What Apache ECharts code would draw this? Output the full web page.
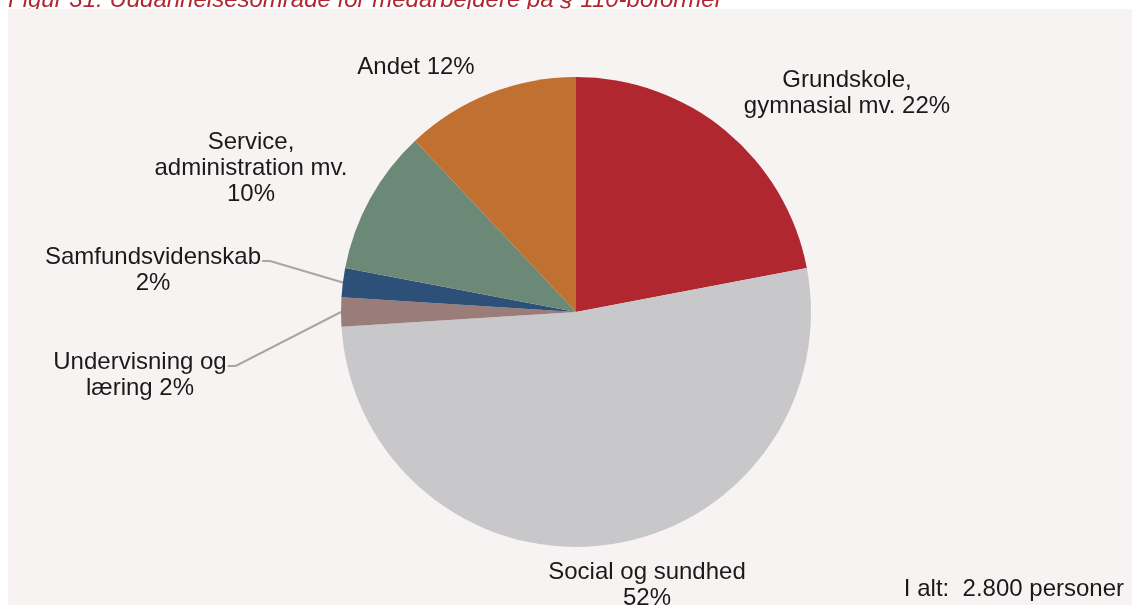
<!DOCTYPE html>
<html>
<head>
<meta charset="utf-8">
<script src="https://cdn.jsdelivr.net/npm/echarts@6/dist/echarts.min.js"></script>
<style>
html,body{margin:0;padding:0;background:#ffffff;}
#chart{width:1132px;height:605px;}
</style>
</head>
<body>
<div id="chart"></div>
<script>
// ---- data ----
const categories = ['Grundskole,\ngymnasial mv.', 'Social og sundhed', 'Undervisning og\nlæring', 'Samfundsvidenskab', 'Service,\nadministration mv.', 'Andet'];
const labelTexts = ['Grundskole,\ngymnasial mv. 22%', 'Social og sundhed\n52%', 'Undervisning og\nlæring 2%', 'Samfundsvidenskab\n2%', 'Service,\nadministration mv.\n10%', 'Andet 12%'];
const shares = [22, 52, 2, 2, 10, 12];
const titleText = 'Figur 31: Uddannelsesområde for medarbejdere på § 110-boformer';
const totalText = 'I alt:  2.800 personer';

// ---- styling / layout ----
const colors = ['#b0272f', '#c8c8ca', '#9a7c79', '#2d5078', '#6c8877', '#c07031'];
const labelCenters = [[847, 93], [647, 585], [140, 375], [153, 270], [251, 168], [416, 67]];
const withLine = [false, false, true, true, false, false];
const FONT = "'Liberation Sans', Arial, sans-serif";
const FS = 24, LH = 26;

const chart = echarts.init(document.getElementById('chart'), null, {renderer: 'canvas'});

const data = categories.map((c, i) => ({
  name: c,
  value: shares[i],
  itemStyle: {color: colors[i]},
  label: {formatter: labelTexts[i]},
  labelLine: {show: withLine[i]}
}));

chart.setOption({
  animation: false,
  backgroundColor: '#ffffff',
  graphic: [{
    type: 'rect', z: 1, silent: true,
    shape: {x: 8, y: 9, width: 1124, height: 596},
    style: {fill: '#f7f3f2'}
  }],
  title: [{
    text: titleText,
    left: 3, top: -17, z: 0,
    textStyle: {fontFamily: FONT, fontSize: 24, fontStyle: 'italic', fontWeight: 'normal', color: '#b0272f'}
  }, {
    text: totalText,
    right: 3, top: 572,
    textStyle: {fontFamily: FONT, fontSize: 24, fontWeight: 'normal', color: '#1a1a1a'}
  }],
  series: [{
    type: 'pie',
    center: [576, 312],
    radius: 235,
    startAngle: 90,
    clockwise: true,
    avoidLabelOverlap: false,
    data: data,
    itemStyle: {borderWidth: 0},
    label: {
      show: true,
      position: 'outside',
      fontFamily: FONT,
      fontSize: FS,
      lineHeight: LH,
      color: '#1a1a1a',
      align: 'center'
    },
    labelLine: {
      show: true,
      length: 20,
      length2: 8,
      lineStyle: {color: '#a6a6a6', width: 2}
    },
    labelLayout: function (p) {
      const c = labelCenters[p.dataIndex];
      const res = {x: c[0], y: c[1], align: 'center', verticalAlign: 'middle'};
      if (withLine[p.dataIndex] && p.labelLinePoints) {
        const s = p.labelLinePoints[0];
        const w = p.labelRect.width, h = p.labelRect.height;
        const ex = c[0] + w / 2 + 1;
        const ey = c[1] - h / 2 + LH / 2 + 4;
        res.labelLinePoints = [[s[0], s[1]], [ex + 8, ey], [ex, ey]];
      }
      return res;
    }
  }]
});
</script>
</body>
</html>
